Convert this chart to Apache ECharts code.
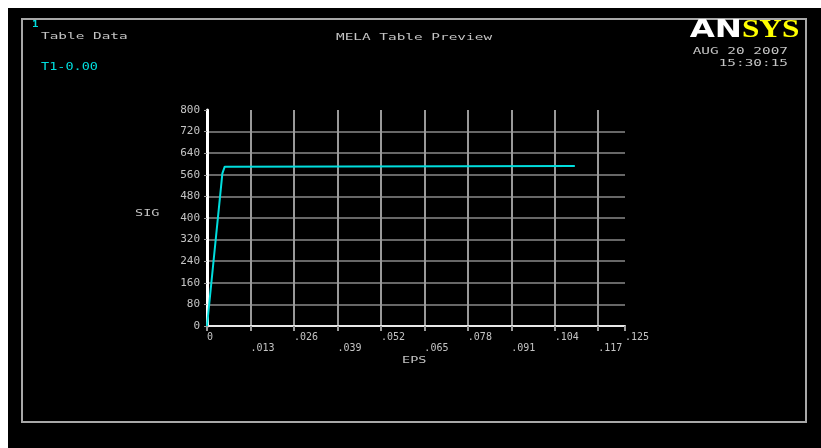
<!DOCTYPE html>
<html>
<head>
<meta charset="utf-8">
<script src="https://cdn.jsdelivr.net/npm/echarts@6/dist/echarts.min.js"></script>
<style>
  html, body { margin: 0; padding: 0; background: #000; }
  #chart { width: 821px; height: 448px; }
</style>
</head>
<body>
<div id="chart"></div>
<script>
// MELA table preview: stress (SIG) vs strain (EPS)
const epsValues = [0, 0.0046, 0.0053, 0.0056, 0.110];
const sigValues = [0, 565, 590, 593, 593];
const xTicks = { min: 0, max: 0.125, step: 0.013 };
const yTicks = { min: 0, max: 800, step: 80 };

const monoFont = '"DejaVu Sans Mono", "Liberation Mono", monospace';
const textGray = '#c4c4c4';
const cyan = '#00dede';
const gridGray = '#9a9a9a';

function fmtEps(v) {
  if (v === 0) return '0';
  return v.toFixed(3).replace(/^0/, '');
}

function label(x, y, text, opts) {
  opts = opts || {};
  return {
    type: 'text',
    x: x,
    y: y,
    scaleX: opts.scaleX || 1.6,
    scaleY: opts.scaleY || 1,
    z: 10,
    style: {
      text: text,
      font: (opts.weight || 'normal') + ' ' + (opts.size || 9) + 'px ' + (opts.family || monoFont),
      fill: opts.color || textGray,
      textAlign: opts.align || 'left',
      textVerticalAlign: 'middle'
    }
  };
}

const chart = echarts.init(document.getElementById('chart'));

chart.setOption({
  backgroundColor: '#000',
  animation: false,
  grid: { left: 207, right: 196, top: 110, bottom: 122 },
  xAxis: {
    type: 'value',
    min: xTicks.min,
    max: xTicks.max,
    interval: xTicks.step,
    axisLine: { show: true, onZero: false, lineStyle: { color: '#e8e8e8', width: 2 } },
    axisTick: { show: true, length: 5, lineStyle: { color: gridGray, width: 2 } },
    splitLine: { show: true, showMaxLine: false, lineStyle: { color: gridGray, width: 2 } },
    axisLabel: {
      showMaxLabel: true,
      showMinLabel: true,
      align: 'left',
      verticalAlign: 'top',
      margin: 6,
      lineHeight: 11,
      color: textGray,
      fontFamily: monoFont,
      fontSize: 10,
      formatter: function (v, i) {
        return (i % 2 === 1 ? '\n' : '') + fmtEps(v);
      }
    }
  },
  yAxis: {
    type: 'value',
    min: yTicks.min,
    max: yTicks.max,
    interval: yTicks.step,
    axisLine: { show: true, lineStyle: { color: '#ffffff', width: 3 } },
    axisTick: { show: true, length: 3, lineStyle: { color: gridGray, width: 1 } },
    splitLine: { show: true, showMaxLine: false, lineStyle: { color: '#8a8a8a', width: 1.5 } },
    axisLabel: {
      margin: 7,
      color: textGray,
      fontFamily: monoFont,
      fontSize: 11
    }
  },
  series: [
    {
      type: 'line',
      data: epsValues.map(function (e, i) { return [e, sigValues[i]]; }),
      showSymbol: false,
      lineStyle: { color: cyan, width: 2 },
      z: 5
    }
  ],
  graphic: [
    // white strips on the top and left edges
    { type: 'rect', shape: { x: 0, y: 0, width: 821, height: 8 }, style: { fill: '#fff' } },
    { type: 'rect', shape: { x: 0, y: 0, width: 8, height: 448 }, style: { fill: '#fff' } },
    // frame
    {
      type: 'rect',
      shape: { x: 22, y: 19, width: 784, height: 403 },
      style: { fill: 'none', stroke: '#a8a8a8', lineWidth: 2 }
    },
    label(32, 25, '1', { color: cyan, weight: 'bold', size: 9, scaleX: 1.2 }),
    label(41, 37, 'Table Data'),
    label(41, 67, 'T1-0.00', { color: cyan, scaleX: 1.35, size: 10 }),
    label(336, 38, 'MELA Table Preview'),
    label(788, 52, 'AUG 20 2007', { align: 'right' }),
    label(788, 64, '15:30:15', { align: 'right' }),
    label(135, 214, 'SIG', { scaleX: 1.5 }),
    label(402, 361, 'EPS', { scaleX: 1.5 }),
    // logo
    label(742, 30, 'AN', {
      align: 'right', color: '#ffffff', weight: 'bold', size: 25,
      family: '"DejaVu Sans", "Liberation Sans", sans-serif', scaleX: 1.3
    }),
    label(742, 30, 'SYS', {
      align: 'left', color: '#ffff00', weight: 'bold', size: 26,
      family: '"Liberation Serif", "DejaVu Serif", serif', scaleX: 1.2
    })
  ]
});
</script>
</body>
</html>
